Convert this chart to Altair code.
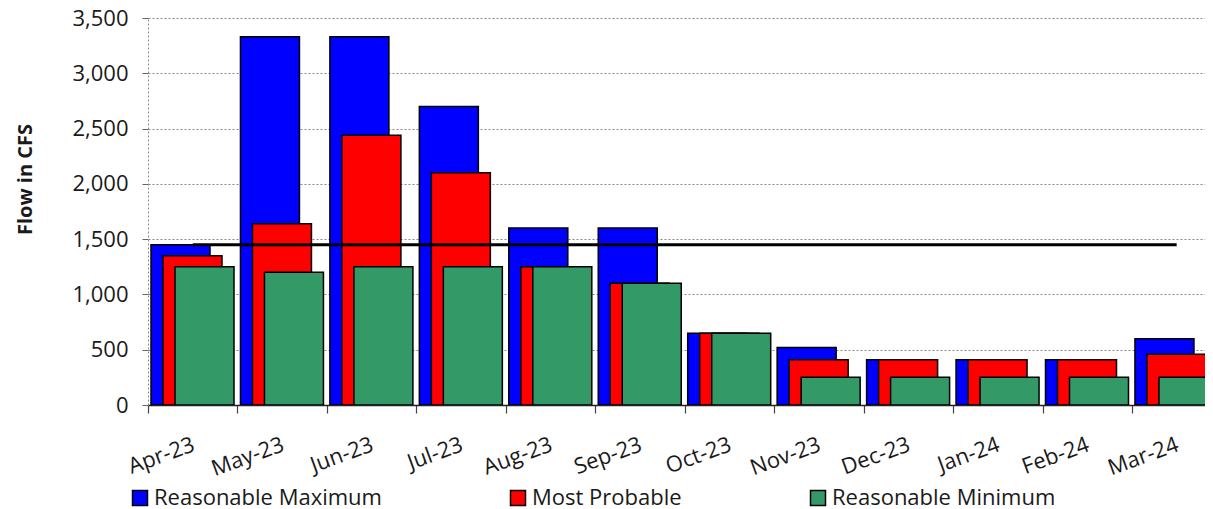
import altair as alt
import pandas as pd

# ---------------- data ----------------
months = ["Apr-23", "May-23", "Jun-23", "Jul-23", "Aug-23", "Sep-23",
          "Oct-23", "Nov-23", "Dec-23", "Jan-24", "Feb-24", "Mar-24"]
reasonable_max = [1450, 3330, 3330, 2700, 1600, 1600, 650, 520, 410, 410, 410, 600]
most_probable = [1350, 1640, 2440, 2100, 1250, 1100, 650, 410, 410, 410, 410, 460]
reasonable_min = [1250, 1200, 1250, 1250, 1250, 1100, 650, 250, 250, 250, 250, 250]
threshold = [1450, 1450, 1450, 1450, 1450, 1450, 1450, 1450, 1450, 1450, 1450, 1450]

series_names = ["Reasonable Maximum", "Most Probable", "Reasonable Minimum"]
series_colors = ["#0000FF", "#FF0000", "#339966"]

# ---------------- layout helpers ----------------
CAT_PX = 89.45          # pixel width of one month slot
PLOT_W = 1057
PLOT_H = 387
BAR_START = 3 / CAT_PX
BAR_STEP = 12 / CAT_PX
BAR_W = 59 / CAT_PX
X_MAX = PLOT_W / CAT_PX

rows = []
for s, (name, vals) in enumerate(zip(series_names, [reasonable_max, most_probable, reasonable_min])):
    for i, (m, v) in enumerate(zip(months, vals)):
        x0 = i + BAR_START + s * BAR_STEP
        rows.append({"series": name, "month": m, "x0": x0, "x1": x0 + BAR_W, "value": v})
bars_df = pd.DataFrame(rows)

line_df = pd.DataFrame({"xc": [i + 0.5 for i in range(len(months))], "value": threshold})

FONT = "Open Sans"
label_expr = "[" + ",".join("'" + m + "'" for m in months) + "][datum.value]"

xscale = alt.Scale(domain=[0, X_MAX], nice=False, zero=False)
yscale = alt.Scale(domain=[0, 3500], nice=False)

x_axis = alt.Axis(
    values=list(range(12)), labelExpr=label_expr, labelOffset=CAT_PX / 2 - 3,
    labelAngle=-20, labelAlign="right", labelBaseline="top", labelPadding=21,
    labelFontSize=22, labelFont=FONT, labelColor="#1a1a1a",
    labelOverlap=False, labelBound=False, labelFlush=False,
    grid=False, domainColor="#222", domainWidth=1.5,
    tickColor="#444", tickSize=8, tickWidth=1.2, title=None,
)

y_axis = alt.Axis(
    values=[0, 500, 1000, 1500, 2000, 2500, 3000, 3500], format=",.0f",
    labelFontSize=22, labelFont=FONT, labelColor="#1a1a1a", labelPadding=14,
    tickSize=6, tickColor="#666", domainColor="#888", domainDash=[2, 2],
    grid=True, gridColor="#888", gridDash=[2, 2], gridWidth=1.2,
    title="Flow in CFS", titleFont=FONT, titleFontSize=20, titleFontWeight="bold",
    titleColor="#1a1a1a", titleX=-123, titleY=161, titleBaseline="middle",
    titleAlign="center", titleAngle=-90,
)

bars = alt.Chart(bars_df).mark_bar(stroke="black", strokeWidth=1.5, clip=True).encode(
    x=alt.X("x0:Q", scale=xscale, axis=x_axis),
    x2="x1:Q",
    y=alt.Y("value:Q", scale=yscale, axis=y_axis),
    y2=alt.datum(0),
    color=alt.Color(
        "series:N",
        scale=alt.Scale(domain=series_names, range=series_colors),
        legend=alt.Legend(
            orient="none", legendX=-19, legendY=469, direction="horizontal",
            columns=3, columnPadding=125, padding=0, title=None,
            symbolType="square", symbolSize=225, symbolStrokeColor="black",
            symbolStrokeWidth=1.5, symbolOpacity=1, labelLimit=0,
            labelFont=FONT, labelFontSize=22, labelColor="#1a1a1a", labelOffset=3,
        ),
    ),
)

line = alt.Chart(line_df).mark_line(color="black", strokeWidth=3).encode(
    x=alt.X("xc:Q", scale=xscale),
    y=alt.Y("value:Q", scale=yscale),
)

chart = alt.layer(bars, line).properties(
    width=PLOT_W, height=PLOT_H,
    autosize=alt.AutoSizeParams(type="none"),
    padding={"left": 140, "top": 10, "right": 0, "bottom": 110},
    background="white",
).configure_view(stroke=None)

chart.save("out.html", embed_options={"renderer": "svg", "actions": False})
